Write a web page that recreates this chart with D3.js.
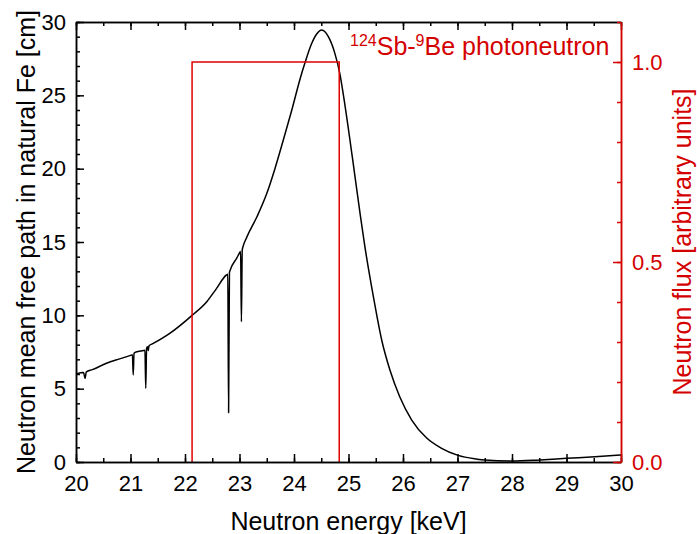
<!DOCTYPE html>
<html>
<head>
<meta charset="utf-8">
<script src="https://cdn.jsdelivr.net/npm/d3@7"></script>
<style>
  html, body { margin: 0; padding: 0; background: #fff; }
  svg { display: block; }
  text { font-family: "Liberation Sans", Arial, Helvetica, sans-serif; }
</style>
</head>
<body>
<svg id="chart" width="697" height="534"></svg>
<script>
// ---- Data ----
const energy = [20.00, 20.14, 20.165, 20.19, 20.30, 20.56, 20.80, 21.00, 21.035, 21.05, 21.065, 21.10,
  21.24, 21.265, 21.28, 21.295, 21.31, 21.325, 21.34, 21.40, 21.72, 22.13, 22.40, 22.58, 22.76,
  22.785, 22.80, 22.815, 22.83, 22.95, 23.00, 23.02, 23.035, 23.05, 23.07, 23.13, 23.32, 23.50,
  23.65, 23.80, 23.96, 24.11, 24.20, 24.32, 24.42, 24.51, 24.63, 24.75, 24.84, 24.94, 25.07,
  25.21, 25.30, 25.46, 25.61, 25.76, 25.94, 26.16, 26.43, 26.70, 27.01, 27.35, 27.50, 27.99,
  28.51, 29.00, 29.52, 30.00];
const mfp = [6.00, 6.10, 5.70, 6.15, 6.30, 6.73, 7.03, 7.27, 7.32, 5.93, 7.42, 7.50,
  7.60, 7.62, 5.02, 7.75, 7.85, 7.60, 7.93, 8.05, 8.77, 10.00, 10.93, 11.84, 12.75,
  12.80, 3.36, 12.90, 13.09, 13.90, 14.25, 14.35, 9.56, 14.45, 14.75, 15.30, 16.72, 18.30,
  20.00, 21.90, 24.00, 26.10, 27.20, 28.50, 29.20, 29.45, 29.00, 27.86, 26.50, 24.20, 20.80,
  17.00, 14.70, 11.20, 8.30, 6.27, 4.45, 2.86, 1.65, 0.95, 0.45, 0.20, 0.13, 0.06,
  0.14, 0.25, 0.36, 0.48];

const fluxEnergy = [22.13, 22.13, 24.83, 24.83];
const fluxValue  = [0, 1, 1, 0];

const xTicks = [20, 21, 22, 23, 24, 25, 26, 27, 28, 29, 30];
const yTicks = [0, 5, 10, 15, 20, 25, 30];
const y2Ticks = [0.0, 0.5, 1.0];

const xLabel = "Neutron energy [keV]";
const yLabel = "Neutron mean free path in natural Fe [cm]";
const y2Label = "Neutron flux [arbitrary units]";

// ---- Layout ----
const W = 697, H = 534;
const L = 76, R = 621, T = 22, B = 462;
const RED = "#d40000";
const RECT_RED = "#e00000";

const svg = d3.select("#chart");
const x = d3.scaleLinear().domain([20, 30]).range([L, R]);
const y = d3.scaleLinear().domain([0, 30]).range([B, T]);
const y2 = d3.scaleLinear().domain([0, 1.1]).range([B, T]);

const xMinor = d3.range(20, 30.001, 0.5);
const yMinor = d3.range(0, 30.001, 1);
const y2Minor = d3.range(0, 1.1001, 0.1).map(v => +v.toFixed(2));

function styleAxis(g, color, fontSize) {
  g.selectAll("path.domain").attr("stroke", color).attr("stroke-width", 1.5);
  g.selectAll(".tick line").attr("stroke", color).attr("stroke-width", 1.5);
  g.selectAll(".tick text").attr("fill", color).style("font-size", fontSize + "px")
    .style("font-family", '"Liberation Sans", Arial, sans-serif');
  g.attr("font-family", null).attr("font-size", null);
}

// Curve (draw first so axes sit on top)
const pts = energy.map((e, i) => [e, mfp[i]]);
svg.append("path")
  .datum(pts)
  .attr("fill", "none")
  .attr("stroke", "#000")
  .attr("stroke-width", 1.5)
  .attr("stroke-linejoin", "round")
  .attr("d", d3.line().x(d => x(d[0])).y(d => y(d[1])).curve(d3.curveMonotoneX));

// Flux rectangle
const fpts = fluxEnergy.map((e, i) => [e, fluxValue[i]]);
svg.append("path")
  .datum(fpts)
  .attr("fill", "none")
  .attr("stroke", RECT_RED)
  .attr("stroke-width", 1.5)
  .attr("d", d3.line().x(d => x(d[0])).y(d => y2(d[1])));

// Bottom axis
const gxMinor = svg.append("g").attr("transform", `translate(0,${B})`)
  .call(d3.axisBottom(x).tickValues(xMinor).tickSize(-4).tickSizeOuter(0).tickFormat(""));
styleAxis(gxMinor, "#000", 22);
const gx = svg.append("g").attr("transform", `translate(0,${B})`)
  .call(d3.axisBottom(x).tickValues(xTicks).tickSize(-8).tickSizeOuter(0).tickPadding(13).tickFormat(d3.format("d")));
styleAxis(gx, "#000", 22);

// Top axis
const gtMinor = svg.append("g").attr("transform", `translate(0,${T})`)
  .call(d3.axisTop(x).tickValues(xMinor).tickSize(-4).tickSizeOuter(0).tickFormat(""));
styleAxis(gtMinor, "#000", 22);
const gt = svg.append("g").attr("transform", `translate(0,${T})`)
  .call(d3.axisTop(x).tickValues(xTicks).tickSize(-8).tickSizeOuter(0).tickFormat(""));
styleAxis(gt, "#000", 22);

// Left axis
const gyMinor = svg.append("g").attr("transform", `translate(${L},0)`)
  .call(d3.axisLeft(y).tickValues(yMinor).tickSize(-4).tickSizeOuter(0).tickFormat(""));
styleAxis(gyMinor, "#000", 22);
const gy = svg.append("g").attr("transform", `translate(${L},0)`)
  .call(d3.axisLeft(y).tickValues(yTicks).tickSize(-8).tickSizeOuter(0).tickPadding(10).tickFormat(d3.format("d")));
styleAxis(gy, "#000", 22);

// Right axis (red)
const gy2Minor = svg.append("g").attr("transform", `translate(${R},0)`)
  .call(d3.axisRight(y2).tickValues(y2Minor).tickSize(-4).tickSizeOuter(0).tickFormat(""));
styleAxis(gy2Minor, RED, 22);
const gy2 = svg.append("g").attr("transform", `translate(${R},0)`)
  .call(d3.axisRight(y2).tickValues(y2Ticks).tickSize(-8).tickSizeOuter(0).tickPadding(11).tickFormat(d3.format(".1f")));
styleAxis(gy2, RED, 22);

// Axis titles
svg.append("text")
  .attr("x", (L + R) / 2).attr("y", 530)
  .attr("text-anchor", "middle")
  .style("font-size", "25px").attr("fill", "#000")
  .text(xLabel);

svg.append("text")
  .attr("transform", `translate(34.5,${(T + B) / 2}) rotate(-90)`)
  .attr("text-anchor", "middle")
  .style("font-size", "25px").attr("fill", "#000")
  .text(yLabel);

svg.append("text")
  .attr("transform", `translate(691,${(T + B) / 2}) rotate(-90)`)
  .attr("text-anchor", "middle")
  .style("font-size", "25px").attr("fill", RED)
  .text(y2Label);

// Annotation: 124Sb-9Be photoneutron
const ann = svg.append("text")
  .attr("x", 350).attr("y", 55)
  .style("font-size", "25px").attr("fill", RED);
ann.append("tspan").attr("dy", -9).style("font-size", "16px").text("124");
ann.append("tspan").attr("dy", 9).text("Sb-");
ann.append("tspan").attr("dy", -9).style("font-size", "16px").text("9");
ann.append("tspan").attr("dy", 9).text("Be photoneutron");
</script>
</body>
</html>
